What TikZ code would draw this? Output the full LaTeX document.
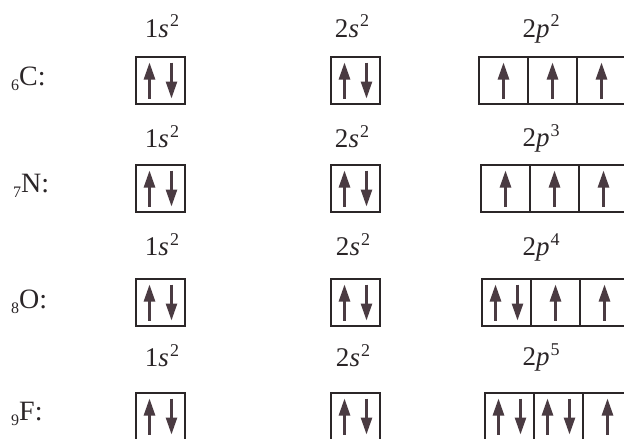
\documentclass[tikz,border=0pt]{standalone}
\usepackage{fontspec}
\setmainfont{Liberation Serif}
\usetikzlibrary{arrows.meta}
\definecolor{ink}{HTML}{2B2628}
\definecolor{arr}{HTML}{4A3B42}
\tikzset{
  orb/.style={draw=ink, line width=1.3pt, minimum width=49pt, minimum height=47pt, inner sep=0pt, outer sep=0pt},
  elec/.style={draw=arr, line width=2.6pt, -{Triangle[length=17pt,width=11pt]}},
  lbl/.style={anchor=base, inner sep=0pt, text=ink, font=\fontsize{27}{30}\selectfont},
  elem/.style={anchor=base west, inner sep=0pt, text=ink, font=\fontsize{28}{30}\selectfont},
}
\newcommand{\orbrow}[3]{%
  \node[orb] (#1sa) at (160.5,#2) {};
  \node[orb] (#1sb) at (355.5,#2) {};
  \node[orb] (#1pa) at (#3+24.5,#2) {};
  \node[orb] (#1pb) at (#3+73.5,#2) {};
  \node[orb] (#1pc) at (#3+122.5,#2) {};
}
\newcommand{\eU}[2]{\draw[elec] ([shift={(#2,18)}]#1.center) -- ([shift={(#2,-18)}]#1.center);}
\newcommand{\eD}[2]{\draw[elec] ([shift={(#2,-18)}]#1.center) -- ([shift={(#2,18)}]#1.center);}
\newcommand{\ePair}[1]{\eU{#1}{-11}\eD{#1}{11}}
\newcommand{\lowidx}[1]{\raisebox{-5pt}{\fontsize{16}{16}\selectfont #1}}
\newcommand{\highidx}[1]{\kern1pt\raisebox{10pt}{\fontsize{18}{18}\selectfont #1}}
\newcommand{\orbl}[2]{#1\textit{#2}}
\begin{document}
\begin{tikzpicture}[x=1pt,y=-1pt]
\fill[white] (0,0) rectangle (624,439);
\useasboundingbox (0,0) rectangle (624,439);
\clip (0,0) rectangle (624,439);
% row C
\node[elem] (lC) at (11,85) {\lowidx{6}C:};
\node[lbl] (tC1) at (162,37) {\orbl{1}{s}\highidx{2}};
\node[lbl] (tC2) at (352,37) {\orbl{2}{s}\highidx{2}};
\node[lbl] (tC3) at (541,37) {\orbl{2}{p}\highidx{2}};
\orbrow{C}{80.5}{479}
\ePair{Csa}\ePair{Csb}
\eU{Cpa}{0}\eU{Cpb}{0}\eU{Cpc}{0}
% row N
\node[elem] (lN) at (13,192) {\lowidx{7}N:};
\node[lbl] (tN1) at (162,147) {\orbl{1}{s}\highidx{2}};
\node[lbl] (tN2) at (352,147) {\orbl{2}{s}\highidx{2}};
\node[lbl] (tN3) at (541,146) {\orbl{2}{p}\highidx{3}};
\orbrow{N}{188.5}{481}
\ePair{Nsa}\ePair{Nsb}
\eU{Npa}{0}\eU{Npb}{0}\eU{Npc}{0}
% row O
\node[elem] (lO) at (11,308) {\lowidx{8}O:};
\node[lbl] (tO1) at (162,255) {\orbl{1}{s}\highidx{2}};
\node[lbl] (tO2) at (353,255) {\orbl{2}{s}\highidx{2}};
\node[lbl] (tO3) at (541,255) {\orbl{2}{p}\highidx{4}};
\orbrow{O}{302.5}{482}
\ePair{Osa}\ePair{Osb}
\ePair{Opa}\eU{Opb}{0}\eU{Opc}{0}
% row F
\node[elem] (lF) at (11,420) {\lowidx{9}F:};
\node[lbl] (tF1) at (162,366) {\orbl{1}{s}\highidx{2}};
\node[lbl] (tF2) at (353,366) {\orbl{2}{s}\highidx{2}};
\node[lbl] (tF3) at (541,365) {\orbl{2}{p}\highidx{5}};
\orbrow{F}{416.5}{485}
\ePair{Fsa}\ePair{Fsb}
\ePair{Fpa}\ePair{Fpb}\eU{Fpc}{0}
\end{tikzpicture}
\end{document}
